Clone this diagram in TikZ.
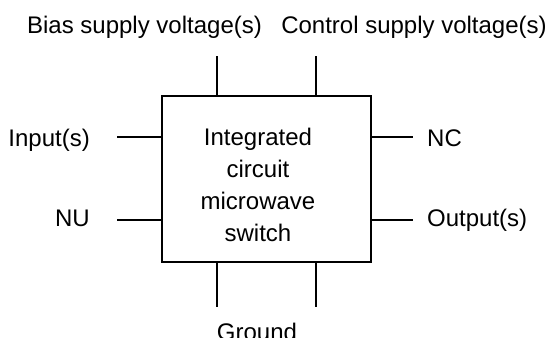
\documentclass[tikz,border=0pt]{standalone}
\usepackage{fontspec}
\setmainfont{Liberation Sans}
\usepackage{tikz}

\tikzset{
	pinline/.style={line width=2pt},
	lbl/.style={inner sep=0pt, font=\fontsize{24}{32}\selectfont},
}

\begin{document}
\begin{tikzpicture}[x=1pt,y=-1pt]
				\useasboundingbox (0,0) rectangle (550,338);
				
				\node[draw, line width=2pt, minimum width=209pt, minimum height=166pt, inner sep=0pt] (chip) at (266.5,179) {};
				\node[lbl, align=center] (chiptext) at (258,185) {Integrated\\circuit\\microwave\\switch};
				
				\coordinate (biasend) at (217,56);
				\coordinate (ctrlend) at (316,56);
				\coordinate (inend) at (117,137);
				\coordinate (nuend) at (117,220);
				\coordinate (ncend) at (413,137);
				\coordinate (outend) at (413,220);
				\coordinate (gndleft) at (217,307);
				\coordinate (gndright) at (316,307);
				
				\draw[pinline] (biasend |- chip.north) -- (biasend);
				\draw[pinline] (ctrlend |- chip.north) -- (ctrlend);
				\draw[pinline] (inend -| chip.west) -- (inend);
				\draw[pinline] (nuend -| chip.west) -- (nuend);
				\draw[pinline] (ncend -| chip.east) -- (ncend);
				\draw[pinline] (outend -| chip.east) -- (outend);
				\draw[pinline] (gndleft |- chip.south) -- (gndleft);
				\draw[pinline] (gndright |- chip.south) -- (gndright);
				
				\node[lbl, anchor=base] (bias) at (144.5,33) {Bias supply voltage(s)};
				\node[lbl, anchor=base] (ctrl) at (414,33) {Control supply voltage(s)};
				\node[lbl, anchor=base east] (input) at (90,146.7) {Input(s)};
				\node[lbl, anchor=base east] (nu) at (90,226.7) {NU};
				\node[lbl, anchor=base west] (nc) at (427,146.7) {NC};
				\node[lbl, anchor=base west] (output) at (427,226.7) {Output(s)};
				\node[lbl, anchor=base] (ground) at (257,340) {Ground};
			\end{tikzpicture}
\end{document}
